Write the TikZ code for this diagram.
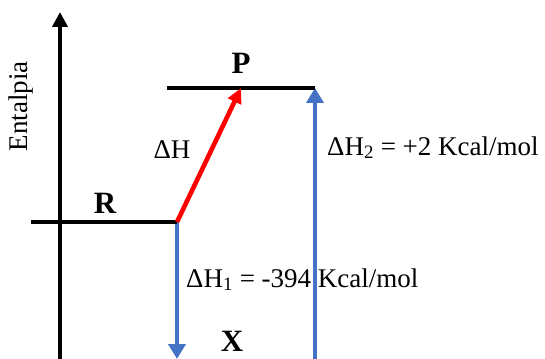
\documentclass[tikz,border=0pt]{standalone}
\usepackage{fontspec}
\setmainfont{Liberation Serif}
\usetikzlibrary{arrows.meta}
\definecolor{myblue}{HTML}{4472C4}
\begin{document}
\begin{tikzpicture}[x=1pt,y=-1pt,
  level/.style={line width=4.8pt,black},
  axisline/.style={line width=4.8pt,black,-{Triangle[length=15pt,width=15pt]}},
  bluearrow/.style={line width=4.6pt,myblue,-{Triangle[length=15pt,width=17pt]}},
  redarrow/.style={line width=4.6pt,red,-{Triangle[length=15pt,width=14pt]}},
  lab/.style={font=\fontsize{27}{30}\selectfont,inner sep=0pt},
  blab/.style={font=\fontsize{31}{34}\selectfont\bfseries,inner sep=0pt}]
\useasboundingbox (0,0) rectangle (545,358);
\coordinate (ab) at (60,364);
\coordinate (at) at (60,12);
\draw[axisline] (ab) -- (at);
\coordinate (r1) at (31,222);
\coordinate (r2) at (177,222);
\coordinate (p1) at (167,88);
\coordinate (p2) at (315,88);
\coordinate (ptip) at (241,88);
\coordinate (xd) at (177,359);
\coordinate (xu) at (315,364);
\draw[bluearrow] (r2) -- (xd);
\draw[bluearrow] (xu) -- (p2);
\draw[level] (r1) -- (r2);
\draw[level] (p1) -- (p2);
\draw[redarrow] (r2) -- (ptip);
\node[blab] (R) at (105,203.5) {R};
\node[blab] (P) at (241,63.5) {P};
\node[blab] (X) at (232,341) {X};
\node[lab] (dh) at (172,150) {ΔH};
\node[lab,anchor=base west] (dh1) at (186,287) {ΔH\textsubscript{1} = -394 Kcal/mol};
\node[lab,anchor=base west] (dh2) at (327,155) {ΔH\textsubscript{2} = +2 Kcal/mol};
\node[lab,rotate=90] (ent) at (21,106.5) {Entalpia};
\end{tikzpicture}
\end{document}
